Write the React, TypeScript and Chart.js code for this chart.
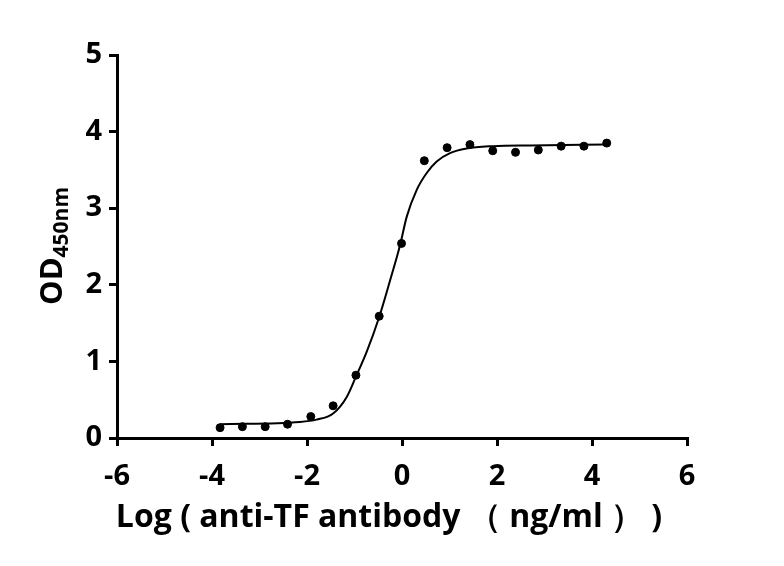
import React, { useEffect, useRef } from "react";
import { Chart, registerables } from "chart.js";

Chart.register(...registerables);

// Measured points: log concentration (x) vs OD450nm (y)
const pointX = [-3.83, -3.36, -2.88, -2.41, -1.92, -1.45, -0.97, -0.48, -0.01, 0.47, 0.95, 1.43, 1.91, 2.39, 2.87, 3.35, 3.83, 4.31];
const pointY = [0.135, 0.148, 0.148, 0.18, 0.28, 0.42, 0.82, 1.59, 2.54, 3.62, 3.79, 3.83, 3.75, 3.73, 3.76, 3.81, 3.81, 3.85];

// Fitted curve
const curveX = [-3.83, -2.15, -1.8, -1.45, -1.16, -0.97, -0.74, -0.48, -0.25, -0.04, 0.1, 0.31, 0.52, 0.73, 1.01, 1.36, 1.92, 2.7, 4.31];
const curveY = [0.18, 0.21, 0.24, 0.32, 0.54, 0.8, 1.13, 1.58, 2.06, 2.52, 2.89, 3.24, 3.46, 3.61, 3.72, 3.78, 3.81, 3.82, 3.83];

const xTicks = [-6, -4, -2, 0, 2, 4, 6];
const yTicks = [0, 1, 2, 3, 4, 5];

const xTitle = "Log ( anti-TF antibody \uFF08 ng/ml \uFF09 )";
const yTitleMain = "OD";
const yTitleSub = "450nm";

const FONT = "'Open Sans', 'Noto Sans', sans-serif";

const titlesPlugin = {
  id: "titles",
  afterDraw(chart: any) {
    const ctx = chart.ctx;
    // y-axis title with subscript
    ctx.save();
    ctx.translate(44, 238);
    ctx.rotate(-Math.PI / 2);
    ctx.fillStyle = "#000";
    ctx.textBaseline = "alphabetic";
    ctx.font = `bold 31px ${FONT}`;
    const w1 = ctx.measureText(yTitleMain).width;
    ctx.font = `bold 21px ${FONT}`;
    const w2 = ctx.measureText(yTitleSub).width;
    const total = w1 + w2;
    let x = -total / 2;
    ctx.font = `bold 31px ${FONT}`;
    ctx.fillText(yTitleMain, x, 10);
    x += w1;
    ctx.font = `bold 21px ${FONT}`;
    ctx.fillText(yTitleSub, x, 16);
    ctx.restore();
    // x-axis title
    ctx.save();
    ctx.fillStyle = "#000";
    ctx.font = `bold 32px ${FONT}`;
    ctx.textAlign = "center";
    ctx.textBaseline = "alphabetic";
    ctx.fillText(xTitle, 381, 519);
    ctx.restore();
  },
};

export default function App() {
  const ref = useRef<HTMLCanvasElement | null>(null);
  useEffect(() => {
    if (!ref.current) return;
    const chart = new Chart(ref.current, {
      type: "scatter",
      data: {
        datasets: [
          {
            type: "line",
            data: curveX.map((x, i) => ({ x, y: curveY[i] })),
            borderColor: "#000",
            borderWidth: 2,
            pointRadius: 0,
            cubicInterpolationMode: "monotone",
            fill: false,
          } as any,
          {
            data: pointX.map((x, i) => ({ x, y: pointY[i] })),
            backgroundColor: "#000",
            borderColor: "#000",
            pointRadius: 4,
            pointHoverRadius: 4,
          },
        ],
      },
      options: {
        animation: false,
        responsive: false,
        maintainAspectRatio: false,
        layout: { padding: { left: 0, top: 47, right: 89, bottom: 0 } },
        plugins: { legend: { display: false }, tooltip: { enabled: false } },
        scales: {
          x: {
            type: "linear",
            min: -6,
            max: 6,
            afterBuildTicks: (s: any) => {
              s.ticks = xTicks.map((v) => ({ value: v }));
            },
            afterFit: (s: any) => {
              s.height = 120;
            },
            ticks: {
              color: "#000",
              font: { family: FONT, size: 29, weight: "bold" },
              padding: 13,
              maxRotation: 0,
            },
            grid: { drawOnChartArea: false, drawTicks: true, tickLength: 8, lineWidth: 3, color: "#000" },
            border: { display: true, width: 3, color: "#000" },
          },
          y: {
            type: "linear",
            min: 0,
            max: 5,
            afterBuildTicks: (s: any) => {
              s.ticks = yTicks.map((v) => ({ value: v }));
            },
            afterFit: (s: any) => {
              s.width = 109;
            },
            ticks: {
              color: "#000",
              font: { family: FONT, size: 29, weight: "bold" },
              padding: 7,
            },
            grid: { drawOnChartArea: false, drawTicks: true, tickLength: 8, lineWidth: 3, color: "#000" },
            border: { display: true, width: 3, color: "#000" },
          },
        },
      },
      plugins: [titlesPlugin],
    });
    return () => chart.destroy();
  }, []);
  return (
    <div style={{ position: "relative", width: 768, height: 550 }}>
      <canvas ref={ref} width={768} height={550} style={{ width: 768, height: 550 }} />
    </div>
  );
}
